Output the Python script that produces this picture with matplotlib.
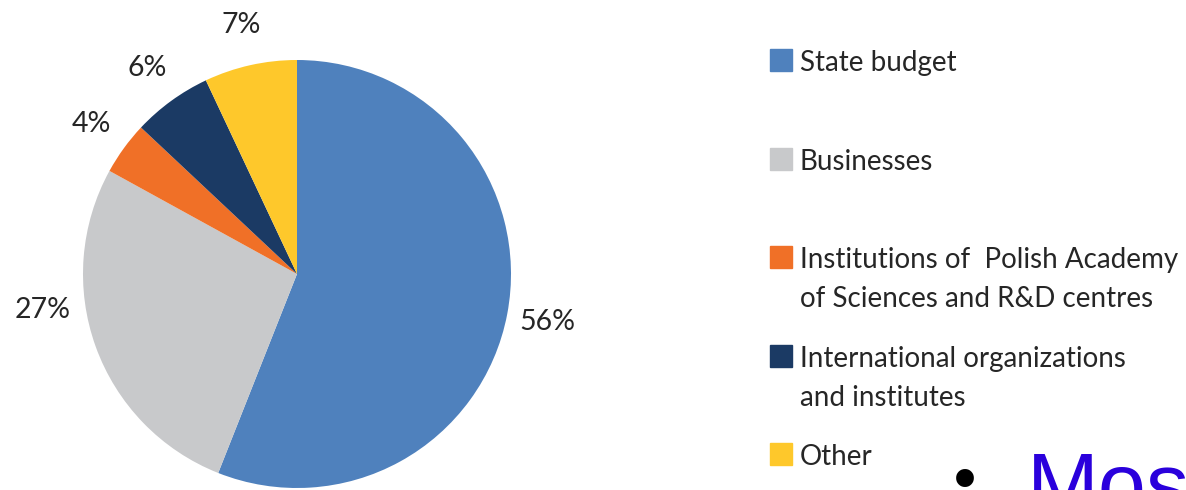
import matplotlib.pyplot as plt
from matplotlib.patches import Rectangle

# Sources of R&D funding (share, %)
sources = ['State budget', 'Businesses',
           'Institutions of  Polish Academy\nof Sciences and R&D centres',
           'International organizations\nand institutes', 'Other']
shares = [56, 27, 4, 6, 7]
colors = ['#4F81BD', '#C8C9CB', '#F07027', '#1B3A64', '#FEC82B']

W, H = 1186, 490
fig = plt.figure(figsize=(W / 100, H / 100), dpi=100)
plt.rcParams['font.family'] = ['Lato', 'DejaVu Sans']
txt_col = '#262626'

# pie axes, placed in pixels
cx, cy, R = 297, 274, 214
ax = fig.add_axes([(cx - R) / W, (H - cy - R) / H, 2 * R / W, 2 * R / H])
wedges, texts = ax.pie(shares, colors=colors, startangle=90, counterclock=False,
                       labels=[f'{s}%' for s in shares], labeldistance=1.19,
                       textprops=dict(fontsize=20.5, color=txt_col))
for t in texts:
    t.set_ha('center')
    t.set_va('center')
# the 27% label sits a little higher, level with the pie's left side
texts[1].set_position((-1.19, -0.17))
ax.set_xlim(-1, 1)
ax.set_ylim(-1, 1)
ax.set_aspect('equal')
ax.axis('off')

# legend drawn by hand: evenly spaced entries, squares at left
sq = 22
x_sq, x_txt = 770, 800
row0, step, line_h = 71, 98.5, 39
for i, (name, c) in enumerate(zip(sources, colors)):
    base = row0 + i * step
    fig.patches.append(Rectangle((x_sq / W, (H - base) / H), sq / W, sq / H,
                                 transform=fig.transFigure, color=c))
    for j, line in enumerate(name.split('\n')):
        fig.text(x_txt / W, (H - base - j * line_h) / H, line, fontsize=20,
                 color=txt_col, ha='left', va='baseline')

# slide text running off the bottom edge
fig.text(965 / W, (H - 484) / H, '\u2022', fontsize=44, color='black',
         ha='center', va='center', family='DejaVu Sans')
fig.text(1027 / W, (H - 513) / H, 'Most', fontsize=62, color='#2A00DC',
         ha='left', va='baseline', family='Liberation Sans')

fig.savefig('out.png', dpi=100, facecolor='white')
